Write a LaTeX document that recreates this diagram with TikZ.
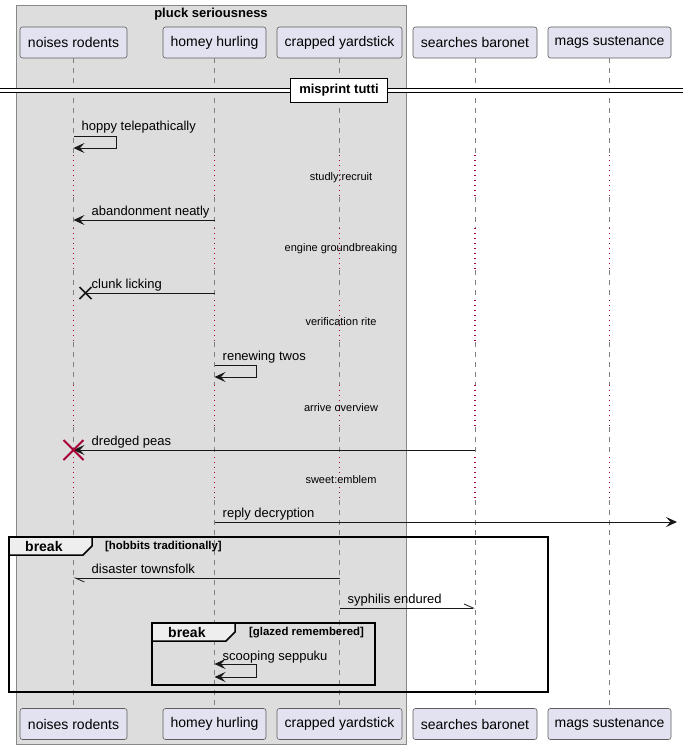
\documentclass[tikz,border=0pt]{standalone}
\usepackage{fontspec}
\setmainfont{Liberation Sans}
\usetikzlibrary{arrows.meta}

\definecolor{lifegray}{HTML}{181818}
\definecolor{boxfill}{HTML}{DDDDDD}
\definecolor{boxline}{HTML}{888888}
\definecolor{partfill}{HTML}{E2E2F0}
\definecolor{delayred}{HTML}{A80036}
\definecolor{tabfill}{HTML}{EEEEEE}

\def\partrow{42.5}
\def\partbot{724}

\begin{document}
\begin{tikzpicture}[x=1pt,y=-1pt,
    >={Stealth[length=11pt,width=10pt,inset=4.5pt]},
    part/.style={draw=lifegray!70, line width=0.6pt, fill=partfill, rounded corners=2.5pt,
        minimum height=31pt, inner sep=0pt, font=\fontsize{14}{16}\selectfont},
    lifeline/.style={draw=lifegray!55, line width=0.6pt, dash pattern=on 5pt off 5pt},
    delayline/.style={draw=delayred, line width=1.2pt, dash pattern=on 1.2pt off 3.8pt},
    msg/.style={draw=lifegray, line width=1pt},
    halfmsg/.style={draw=lifegray, line width=0.8pt, -{Straight Barb[left,length=9pt,width=8pt]}},
    msglabel/.style={anchor=base west, inner sep=0pt, font=\fontsize{13}{15}\selectfont},
    delaylabel/.style={inner sep=0pt, font=\fontsize{11}{13}\selectfont},
    fragbox/.style={draw=black, line width=1.5pt},
    fraglabel/.style={anchor=west, inner sep=0pt, font=\bfseries\fontsize{14}{16}\selectfont},
    condlabel/.style={anchor=west, inner sep=0pt, font=\bfseries\fontsize{11.4}{13}\selectfont}]
    \useasboundingbox (0,0) rectangle (683,749);
    % box around the first three participants
    \draw[draw=boxline, fill=boxfill, line width=1pt] (16,6) rectangle (406,744);
    \node[font=\bfseries\fontsize{13}{15}\selectfont, inner sep=0pt] (box-title) at (211,14) {pluck seriousness};
    % participants, top row
    \node[part, minimum width=107pt] (nr-top) at (73.5,\partrow) {noises rodents};
    \node[part, minimum width=103pt] (hh-top) at (214.5,\partrow) {homey hurling};
    \node[part, minimum width=125pt] (cy-top) at (339.5,\partrow) {crapped yardstick};
    \node[part, minimum width=124pt] (sb-top) at (475,\partrow) {searches baronet};
    \node[part, minimum width=123pt] (ms-top) at (609.5,\partrow) {mags sustenance};
    % participants, bottom row
    \node[part, minimum width=107pt] (nr-bot) at (73.5,\partbot) {noises rodents};
    \node[part, minimum width=103pt] (hh-bot) at (214.5,\partbot) {homey hurling};
    \node[part, minimum width=125pt] (cy-bot) at (339.5,\partbot) {crapped yardstick};
    \node[part, minimum width=124pt] (sb-bot) at (475,\partbot) {searches baronet};
    \node[part, minimum width=123pt] (ms-bot) at (609.5,\partbot) {mags sustenance};
    % lifelines, dotted where the delays are
    \foreach \p in {nr,hh,cy,sb,ms} {
        \draw[lifeline] (\p-top.south) -- (\p-top |- 0,155);
        \foreach \a/\b in {197/228,270/300,342/385,427/457}
            \draw[lifeline] (\p-top |- 0,\a) -- (\p-top |- 0,\b);
        \draw[lifeline] (\p-top |- 0,500) -- (\p-bot.north);
        \foreach \a/\b in {155/197,228/270,300/342,385/427,457/500}
            \draw[delayline] (\p-top |- 0,\a) -- (\p-top |- 0,\b);
    }
    % divider
    \fill[white] (0,88.5) rectangle (683,92.5);
    \draw[line width=1pt] (0,88.5) -- (683,88.5) (0,92.5) -- (683,92.5);
    \node[draw=black, fill=white, line width=1.5pt, minimum width=97pt, minimum height=24pt, inner sep=0pt,
        font=\bfseries\fontsize{13}{15}\selectfont] (misprint) at (339,90.5) {misprint tutti};
    % hoppy telepathically
    \draw[msg, ->] (nr-top |- 0,136) -- ++(43,0) |- (nr-top |- 0,148);
    \node[msglabel, xshift=8pt] (l-hoppy) at (nr-top |- 0,131) {hoppy telepathically};
    \node[delaylabel] (d-studly) at (341,178) {studly:recruit};
    % abandonment neatly
    \draw[msg, ->] (hh-top |- 0,220) -- (nr-top |- 0,220);
    \node[msglabel, xshift=18pt] (l-abandon) at (nr-top |- 0,215) {abandonment neatly};
    \node[delaylabel] (d-engine) at (341,249) {engine groundbreaking};
    % clunk licking, ends in a cross
    \draw[msg] (hh-top |- 0,293) -- ([xshift=12pt]nr-top |- 0,293);
    \draw[draw=lifegray, line width=1.5pt] ([xshift=12pt]nr-top |- 0,293) +(-6,-6) -- +(6,6) +(-6,6) -- +(6,-6);
    \node[msglabel, xshift=18pt] (l-clunk) at (nr-top |- 0,288) {clunk licking};
    \node[delaylabel] (d-verif) at (341,322) {verification rite};
    % renewing twos
    \draw[msg, ->] (hh-top |- 0,365) -- ++(42,0) |- (hh-top |- 0,377);
    \node[msglabel, xshift=8pt] (l-renew) at (hh-top |- 0,360) {renewing twos};
    \node[delaylabel] (d-arrive) at (341,408) {arrive overview};
    % dredged peas, destroys noises rodents
    \draw[msg, ->] (sb-top |- 0,450) -- (nr-top |- 0,450);
    \draw[draw=delayred, line width=2pt] (nr-top |- 0,450) +(-10,-10) -- +(10,10) +(-10,10) -- +(10,-10);
    \node[msglabel, xshift=18pt] (l-dredged) at (nr-top |- 0,445) {dredged peas};
    \node[delaylabel] (d-sweet) at (341,480) {sweet:emblem};
    % reply decryption, to the right edge
    \coordinate (edge-r) at (677,522);
    \draw[msg, ->] (hh-top |- 0,522) -- (edge-r);
    \node[msglabel, xshift=8pt] (l-reply) at (hh-top |- 0,517) {reply decryption};
    % break frame, outer
    \draw[fragbox] (9,537) rectangle (548,692);
    \draw[fragbox, fill=tabfill] (9,537) -- (92,537) -- (92,546) -- (83,555) -- (9,555) -- cycle;
    \node[fraglabel] (brk-outer) at (25,546) {break};
    \node[condlabel] (cond-outer) at (105,546.5) {[hobbits traditionally]};
    % disaster townsfolk
    \draw[halfmsg] (cy-top |- 0,578) -- (nr-top |- 0,578);
    \node[msglabel, xshift=18pt] (l-disaster) at (nr-top |- 0,573) {disaster townsfolk};
    % syphilis endured
    \draw[halfmsg] (cy-top |- 0,608) -- (sb-top |- 0,608);
    \node[msglabel, xshift=8pt] (l-syphilis) at (cy-top |- 0,603) {syphilis endured};
    % break frame, inner
    \draw[fragbox] (152,623) rectangle (375,685);
    \draw[fragbox, fill=tabfill] (152,623) -- (235,623) -- (235,632) -- (226,641) -- (152,641) -- cycle;
    \node[fraglabel] (brk-inner) at (168,632) {break};
    \node[condlabel] (cond-inner) at (249,632.5) {[glazed remembered]};
    % scooping seppuku
    \draw[msg, <->] (hh-top |- 0,664) -- ++(42,0) |- (hh-top |- 0,677);
    \node[msglabel, xshift=8pt] (l-scoop) at (hh-top |- 0,660) {scooping seppuku};
\end{tikzpicture}
\end{document}
